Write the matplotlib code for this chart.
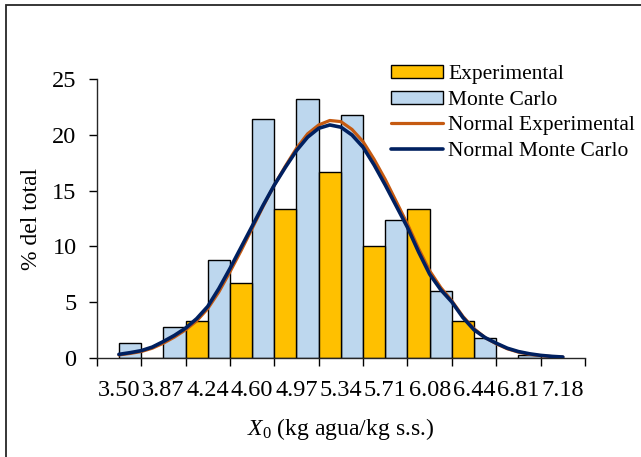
import matplotlib.pyplot as plt
from matplotlib.patches import Rectangle

plt.rcParams['font.family'] = ['Liberation Serif', 'DejaVu Serif']
plt.rcParams['mathtext.fontset'] = 'custom'
plt.rcParams['mathtext.rm'] = 'Liberation Serif'
plt.rcParams['mathtext.it'] = 'Liberation Serif:italic'

# bin labels on the category axis
categories = ['3.50', '3.87', '4.24', '4.60', '4.97', '5.34', '5.71', '6.08', '6.44', '6.81', '7.18']

# histogram values (% of total), one pair per bin boundary
monte_carlo = [1.35, 2.8, 8.8, 21.4, 23.2, 21.8, 12.4, 6.0, 1.8, 0.25]
experimental = [0, 3.33, 6.67, 13.33, 16.67, 10.0, 13.33, 3.33, 0, 0]

# fitted normal curves (x in category units)
curve_x = [0.5, 0.75, 1.0, 1.25, 1.5, 1.75, 2.0, 2.25, 2.5, 2.75, 3.0, 3.25, 3.5, 3.75,
           4.0, 4.25, 4.5, 4.75, 5.0, 5.25, 5.5, 5.75, 6.0, 6.25, 6.5, 6.75, 7.0, 7.25,
           7.5, 7.75, 8.0, 8.25, 8.5, 8.75, 9.0, 9.25, 9.5, 9.75, 10.0, 10.25, 10.5]
normal_mc = [0.30, 0.45, 0.63, 0.95, 1.45, 2.0, 2.65, 3.5, 4.6, 6.2, 8.0, 9.9, 11.8, 13.7,
             15.5, 17.1, 18.6, 19.8, 20.6, 20.9, 20.7, 20.0, 18.9, 17.3, 15.5, 13.6, 11.7, 9.5,
             7.5, 6.1, 5.0, 3.6, 2.5, 1.8, 1.3, 0.85, 0.55, 0.35, 0.21, 0.12, 0.06]
normal_exp = [0.25, 0.38, 0.55, 0.85, 1.3, 1.85, 2.5, 3.3, 4.4, 5.9, 7.7, 9.6, 11.6, 13.6,
              15.5, 17.2, 18.8, 20.1, 20.9, 21.3, 21.2, 20.5, 19.4, 17.8, 16.0, 14.0, 12.0, 9.8,
              7.8, 6.3, 5.1, 3.7, 2.6, 1.8, 1.25, 0.8, 0.5, 0.3, 0.18, 0.1, 0.05]

fig = plt.figure(figsize=(6.41, 4.57), dpi=100)
ax = fig.add_axes([0.1509, 0.2173, 0.7618, 0.6092])

# outer chart border (only top/left visible in the crop)
fig.patches.append(Rectangle((6 / 641, -0.5), 2, 1.5 - 5 / 457, transform=fig.transFigure,
                             fill=False, edgecolor='#262626', linewidth=1.3))

pos = range(len(monte_carlo))
b_mc = ax.bar([p + 0.75 for p in pos], monte_carlo, width=0.5, color='#BDD7EE',
              edgecolor='black', linewidth=1.0, zorder=2)
b_exp = ax.bar([p + 1.25 for p in pos], experimental, width=0.5, color='#FFC000',
               edgecolor='black', linewidth=1.0, zorder=2)

l_exp, = ax.plot(curve_x, normal_exp, color='#C55A11', linewidth=2.3, zorder=3,
                 solid_capstyle='round')
l_mc, = ax.plot(curve_x, normal_mc, color='#002060', linewidth=2.6, zorder=4,
                solid_capstyle='round')

ax.set_xlim(0, 11)
ax.set_ylim(0, 25)
ax.set_yticks([0, 5, 10, 15, 20, 25])
ax.set_xticks(range(12))
ax.set_xticklabels([])
ax.set_xticks([i + 0.5 for i in range(11)], minor=True)
ax.set_xticklabels(categories, minor=True)
ax.tick_params(axis='x', which='minor', length=0, pad=16, labelsize=17.5)
ax.tick_params(axis='x', which='major', length=5.5, width=1, direction='out')
ax.tick_params(axis='y', length=5.5, width=1, direction='out', labelsize=17.5, pad=9)

for side in ['top', 'right']:
    ax.spines[side].set_visible(False)
for side in ['left', 'bottom']:
    ax.spines[side].set_linewidth(1.0)
    ax.spines[side].set_color('#262626')

ax.set_ylabel('% del total', fontsize=17, labelpad=7)
ax.set_xlabel(r'$\mathit{X}_{\mathrm{0}}$ (kg agua/kg s.s.)', fontsize=17, labelpad=11)

ax.legend([b_exp, b_mc, l_exp, l_mc],
          ['Experimental', 'Monte Carlo', 'Normal Experimental', 'Normal Monte Carlo'],
          loc='upper left', bbox_to_anchor=(391 / 641, 1 - 65 / 457),
          bbox_transform=fig.transFigure, frameon=False, fontsize=15.5, borderpad=0,
          borderaxespad=0, handlelength=2.4, handleheight=0.55, handletextpad=0.25,
          labelspacing=0.3)

fig.savefig('out.png', dpi=100)
